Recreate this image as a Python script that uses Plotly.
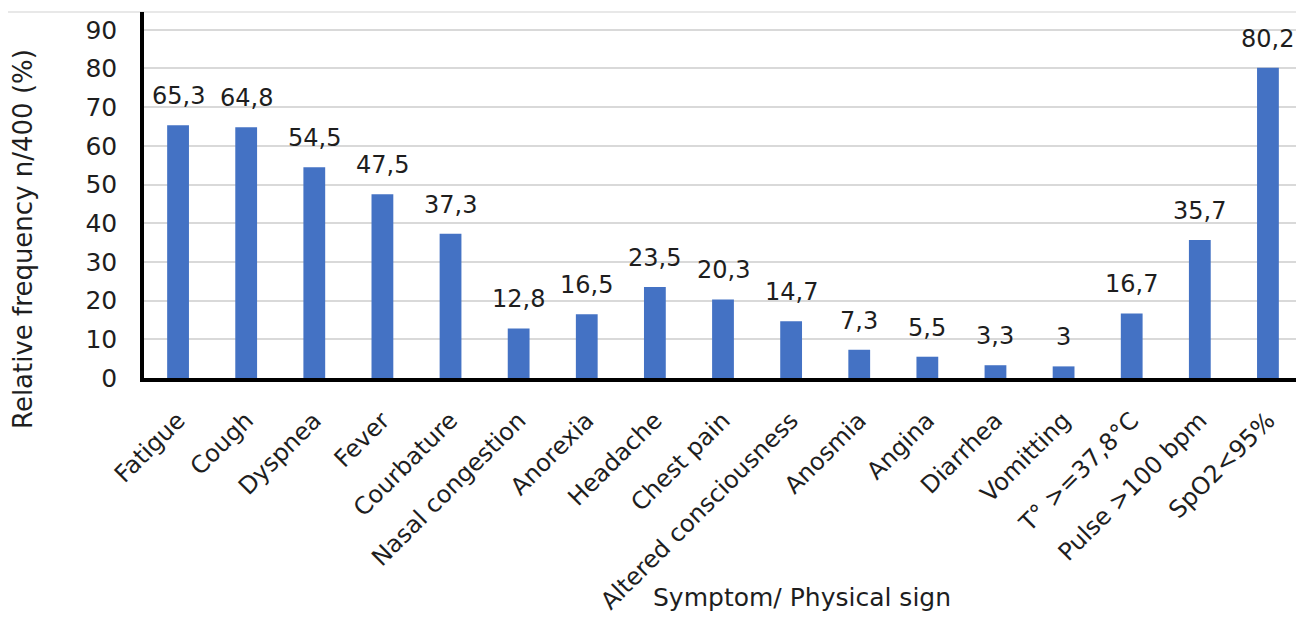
import plotly.graph_objects as go

categories = ["Fatigue", "Cough", "Dyspnea", "Fever", "Courbature", "Nasal congestion",
              "Anorexia", "Headache", "Chest pain", "Altered consciousness", "Anosmia",
              "Angina", "Diarrhea", "Vomitting", "T° >=37,8°C", "Pulse >100 bpm", "SpO2<95%"]
values = [65.3, 64.8, 54.5, 47.5, 37.3, 12.8, 16.5, 23.5, 20.3, 14.7, 7.3, 5.5, 3.3, 3.0, 16.7, 35.7, 80.2]
labels = ["65,3", "64,8", "54,5", "47,5", "37,3", "12,8", "16,5", "23,5", "20,3", "14,7",
          "7,3", "5,5", "3,3", "3", "16,7", "35,7", "80,2"]
y_ticks = [0, 10, 20, 30, 40, 50, 60, 70, 80, 90]

FONT = "DejaVu Sans"
TXT = "#1e1e1e"

W, H = 1296, 611
L, R, T, B = 136, 2, 4, 241
PW, PH = W - L - R, H - T - B

fig = go.Figure(go.Bar(
    x=categories, y=values,
    marker=dict(color="#4472C4", line=dict(width=0)),
    hoverinfo="x+y",
))

annotations = [
    dict(x=c, y=v, xref="x", yref="y", text=t, showarrow=False,
         yanchor="bottom", xanchor="center", yshift=13,
         font=dict(family=FONT, size=24, color=TXT))
    for c, v, t in zip(categories, values, labels)
]
annotations += [
    dict(text="Symptom/ Physical sign", xref="paper", yref="paper",
         x=(794 - L) / PW, y=(370 - 589) / PH,
         showarrow=False, font=dict(family=FONT, size=25, color=TXT),
         xanchor="center", yanchor="middle"),
    dict(text="Relative frequency n/400 (%)", xref="paper", yref="paper",
         x=(15 - L) / PW, y=(370 - 231) / PH,
         showarrow=False, textangle=-90,
         font=dict(family=FONT, size=26, color=TXT),
         xanchor="center", yanchor="middle"),
]

fig.update_layout(
    width=W, height=H,
    margin=dict(l=L, r=R, t=T, b=B, autoexpand=False),
    paper_bgcolor="white", plot_bgcolor="white",
    bargap=0.68,
    showlegend=False,
    font=dict(family=FONT, size=25, color=TXT),
    xaxis=dict(
        tickangle=-45, tickfont=dict(family=FONT, size=24, color=TXT),
        showline=True, linecolor="black", linewidth=3.5,
        ticks="", showgrid=False, ticklabelstandoff=15, automargin=False,
    ),
    yaxis=dict(
        range=[0, 94.6], tickvals=y_ticks,
        tickfont=dict(family=FONT, size=25, color=TXT),
        showline=True, linecolor="black", linewidth=3.5,
        showgrid=True, gridcolor="#d9d9d9", gridwidth=1.5,
        zeroline=False, ticks="", ticklabelstandoff=18, automargin=False,
    ),
    annotations=annotations,
    shapes=[dict(type="line", xref="paper", yref="paper",
                 x0=(-1 - L) / PW, x1=1.01, y0=1, y1=1,
                 line=dict(color="#e0e0e0", width=1.5), layer="below")],
)

fig.write_html("out.html")
